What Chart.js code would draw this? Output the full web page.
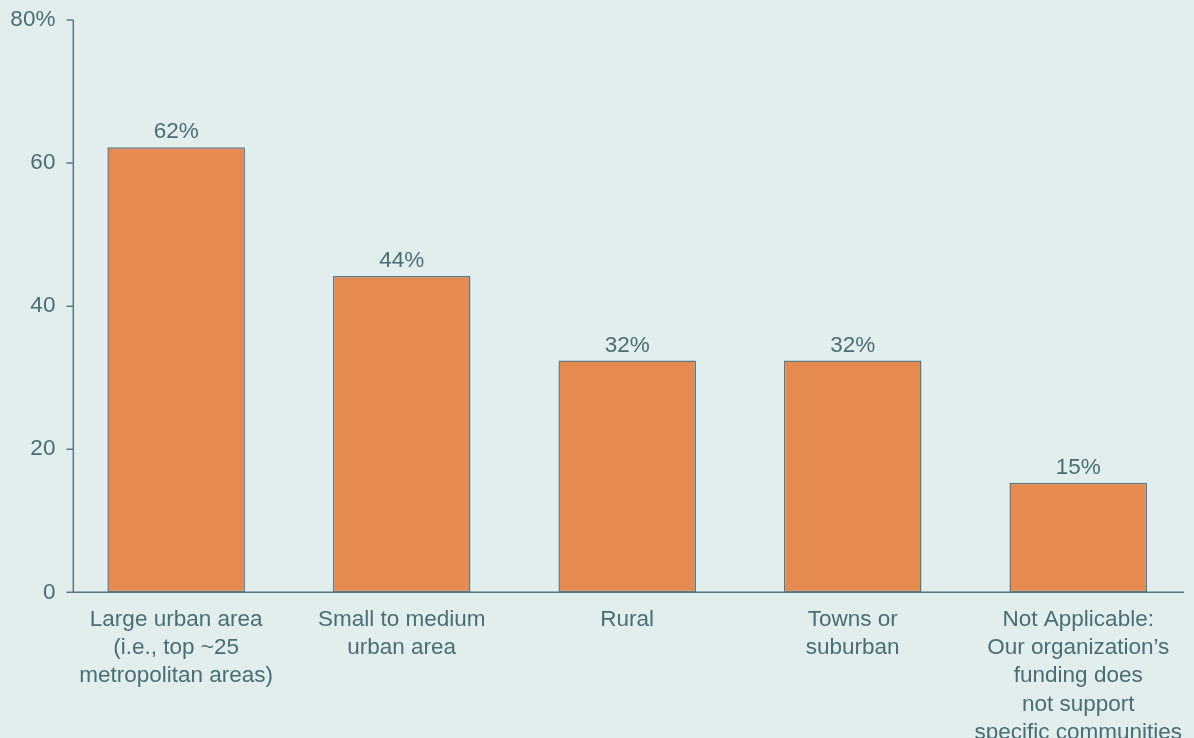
<!DOCTYPE html>
<html>
<head>
<meta charset="utf-8">
<script src="https://cdn.jsdelivr.net/npm/chart.js@4/dist/chart.umd.min.js"></script>
<style>
  html, body { margin: 0; padding: 0; background: #e2eeed; }
  #wrap { width: 1194px; height: 738px; position: relative; }
</style>
</head>
<body>
<div id="wrap"><canvas id="c"></canvas></div>
<script>
const categories = [
  ['Large urban area', '(i.e., top ~25', 'metropolitan areas)'],
  ['Small to medium', 'urban area'],
  ['Rural'],
  ['Towns or', 'suburban'],
  ['Not Applicable:', 'Our organization\u2019s', 'funding does', 'not support', 'specific communities']
];
const values = [62.2, 44.2, 32.4, 32.4, 15.3];
const valueLabels = ['62%', '44%', '32%', '32%', '15%'];
const yTicks = [0, 20, 40, 60, 80];

const TEXT = '#4a6d76';
const AXIS = '#587780';
const FONT = '"Liberation Sans", Arial, sans-serif';
const FS = 22.5;

const axesPlugin = {
  id: 'axesPlugin',
  afterDatasetsDraw(chart) {
    const ctx = chart.ctx;
    const y = chart.scales.y;
    const ax = 73.3;
    ctx.save();
    ctx.strokeStyle = AXIS;
    ctx.lineWidth = 1.5;
    ctx.beginPath();
    ctx.moveTo(ax, y.getPixelForValue(80));
    ctx.lineTo(ax, y.getPixelForValue(0));
    yTicks.forEach(v => {
      const py = y.getPixelForValue(v);
      ctx.moveTo(66.5, py);
      ctx.lineTo(ax, py);
    });
    ctx.moveTo(66.5, y.getPixelForValue(0));
    ctx.lineTo(1184, y.getPixelForValue(0));
    ctx.stroke();

    ctx.fillStyle = TEXT;
    ctx.font = FS + 'px ' + FONT;
    ctx.textAlign = 'center';
    ctx.textBaseline = 'alphabetic';
    const meta = chart.getDatasetMeta(0);
    meta.data.forEach((bar, i) => {
      ctx.fillText(valueLabels[i], bar.x, bar.y - 9);
    });
    ctx.restore();
  }
};

new Chart(document.getElementById('c'), {
  type: 'bar',
  data: {
    labels: categories,
    datasets: [{
      data: values,
      backgroundColor: '#e58a50',
      borderColor: '#5e7a80',
      borderWidth: 1.5,
      borderSkipped: false,
      barPercentage: 0.61,
      categoryPercentage: 1.0
    }]
  },
  options: {
    responsive: true,
    maintainAspectRatio: false,
    animation: false,
    layout: { padding: { top: 20, right: 3, left: 0, bottom: 0 } },
    plugins: { legend: { display: false }, tooltip: { enabled: false } },
    scales: {
      x: {
        grid: { display: false },
        border: { display: false },
        ticks: {
          color: TEXT,
          font: { family: FONT, size: FS, lineHeight: 1.26 },
          padding: 5,
          maxRotation: 0,
          autoSkip: false
        },
        afterFit(scale) { scale.height = 145.7; }
      },
      y: {
        min: 0,
        max: 80,
        grid: { display: false },
        border: { display: false },
        afterBuildTicks(scale) { scale.ticks = yTicks.map(v => ({ value: v })); },
        ticks: {
          color: TEXT,
          font: { family: FONT, size: FS },
          padding: 0,
          callback: v => v === 80 ? v + '%' : String(v)
        },
        afterFit(scale) { scale.width = 63.4; }
      }
    }
  },
  plugins: [axesPlugin]
});
</script>
</body>
</html>
